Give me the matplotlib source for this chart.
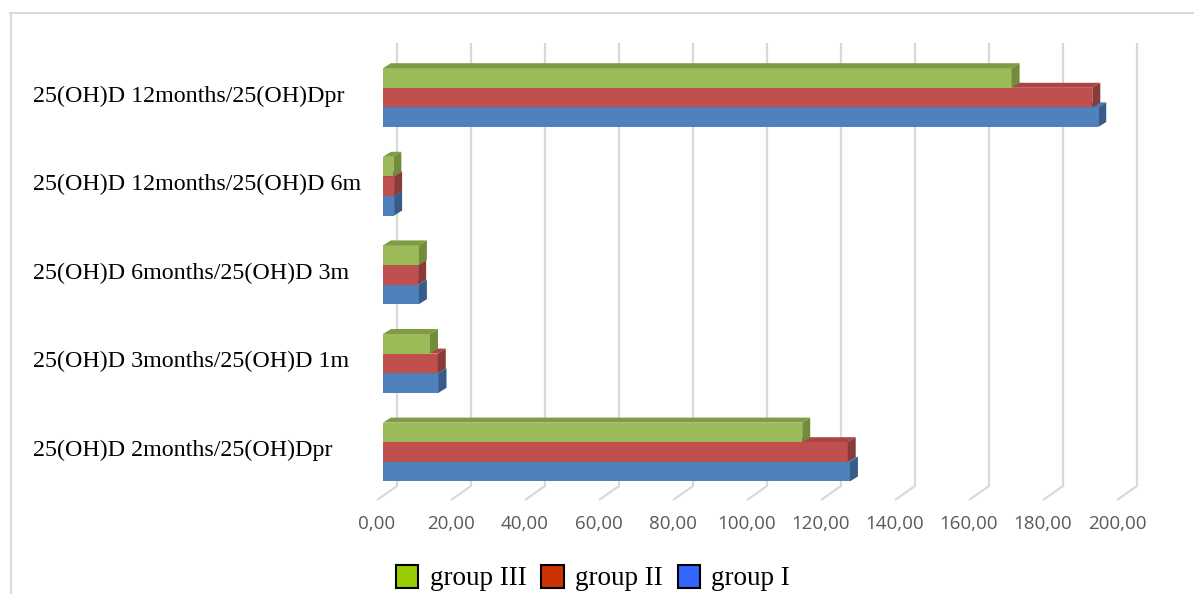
import matplotlib
matplotlib.use('Agg')
import matplotlib.pyplot as plt
from matplotlib.patches import Polygon, Patch
from matplotlib.lines import Line2D
import matplotlib.transforms as mtransforms
import numpy as np

categories = ["25(OH)D 2months/25(OH)Dpr",
              "25(OH)D 3months/25(OH)D 1m",
              "25(OH)D 6months/25(OH)D 3m",
              "25(OH)D 12months/25(OH)D 6m",
              "25(OH)D 12months/25(OH)Dpr"]
group_I = [126.2, 15.0, 9.7, 3.0, 193.3]
group_II = [125.6, 14.8, 9.5, 3.0, 191.7]
group_III = [113.3, 12.7, 9.7, 2.8, 169.9]
series_names = ["group I", "group II", "group III"]
xticks = list(range(0, 201, 20))
tick_labels = [f"{v:.2f}".replace('.', ',') for v in xticks]

W, H, DPI = 1194, 594, 100
fig = plt.figure(figsize=(W / DPI, H / DPI), dpi=DPI)
fig.patch.set_facecolor('white')

# axes box in pixels (front floor edge at bottom)
ax_l, ax_r, ax_t, ax_b = 377, 1117, 43, 500
ax = fig.add_axes([ax_l / W, 1 - ax_b / H, (ax_r - ax_l) / W, (ax_b - ax_t) / H])
xmin, xmax = 0, 200
cat_px = 88.6
ylo = -(ax_b - 452) / cat_px
yhi = (452 - ax_t) / cat_px
ax.set_xlim(xmin, xmax)
ax.set_ylim(ylo, yhi)
for s in ax.spines.values():
    s.set_visible(False)
ax.set_facecolor('none')

px_x = (xmax - xmin) / (ax_r - ax_l)   # data per pixel (x)
px_y = (yhi - ylo) / (ax_b - ax_t)     # data per pixel (y)

# floor depth vector and bar depth vector
gdx, gdy = 20 * px_x, 14 * px_y
bdx, bdy = 8 * px_x, 5 * px_y
bx0 = 6 * px_x  # bar front-face start (mid-depth)

grid_c = '#d9d9d9'
for t in xticks:
    ax.plot([t, t + gdx, t + gdx], [ylo, ylo + gdy, yhi], color=grid_c, lw=1.6,
            clip_on=False, zorder=1, solid_capstyle='butt')

bar_h = 19.6 * px_y
styles = [
    ('#4F81BD', '#4676AE', '#375C8A'),
    ('#C0504D', '#A94542', '#8A3A38'),
    ('#9BBB59', '#7F9C44', '#728C3D'),
]
series = [group_I, group_II, group_III]
ypos = np.arange(len(categories))
for k, (vals, (fc, tc, sc)) in enumerate(zip(series, styles)):
    z = 2 + k
    for i, v in enumerate(vals):
        yb = ypos[i] + (k - 1.5) * bar_h
        yt = yb + bar_h
        x0 = bx0
        x1 = bx0 + v
        ax.barh(yb, v, height=bar_h, left=x0, align='edge', color=fc,
                edgecolor='none', zorder=z, clip_on=False)
        ax.add_patch(Polygon([(x0, yt), (x1, yt), (x1 + bdx, yt + bdy), (x0 + bdx, yt + bdy)],
                             closed=True, fc=tc, ec='none', zorder=z, clip_on=False))
        ax.add_patch(Polygon([(x1, yb), (x1 + bdx, yb + bdy), (x1 + bdx, yt + bdy), (x1, yt)],
                             closed=True, fc=sc, ec='none', zorder=z, clip_on=False))

ax.set_xticks(xticks)
ax.set_xticklabels(tick_labels, fontfamily='Open Sans', fontsize=13.5, color='#595959')
ax.tick_params(axis='x', length=0, pad=10.5)
ax.set_yticks(ypos)
ax.set_yticklabels(categories, fontfamily='Liberation Serif', fontsize=17.3, color='black', ha='left')
ax.tick_params(axis='y', length=0, pad=(ax_l - 33) * 72 / DPI)
shift = mtransforms.ScaledTranslation(0, 3 / 72, fig.dpi_scale_trans)
for lbl in ax.get_yticklabels():
    lbl.set_transform(lbl.get_transform() + shift)

# outer border (top and left)
fig.add_artist(Line2D([10 / W, 1], [1 - 13 / H, 1 - 13 / H], color='#d9d9d9', lw=1.5))
fig.add_artist(Line2D([11 / W, 11 / W], [1 - 13 / H, 0], color='#d9d9d9', lw=1.5))

handles = [Patch(fc='#99CC00', ec='black', lw=1.5),
           Patch(fc='#CC3300', ec='black', lw=1.5),
           Patch(fc='#3366FF', ec='black', lw=1.5)]
fig.legend(handles, [series_names[2], series_names[1], series_names[0]],
           loc='center', bbox_to_anchor=(593 / W, 1 - 578 / H), ncol=3, frameon=False,
           prop={'family': 'Liberation Serif', 'size': 19.5},
           handlelength=0.82, handleheight=0.95, handletextpad=0.42, columnspacing=0.55,
           borderpad=0, borderaxespad=0)

fig.savefig('out.png', dpi=DPI)
